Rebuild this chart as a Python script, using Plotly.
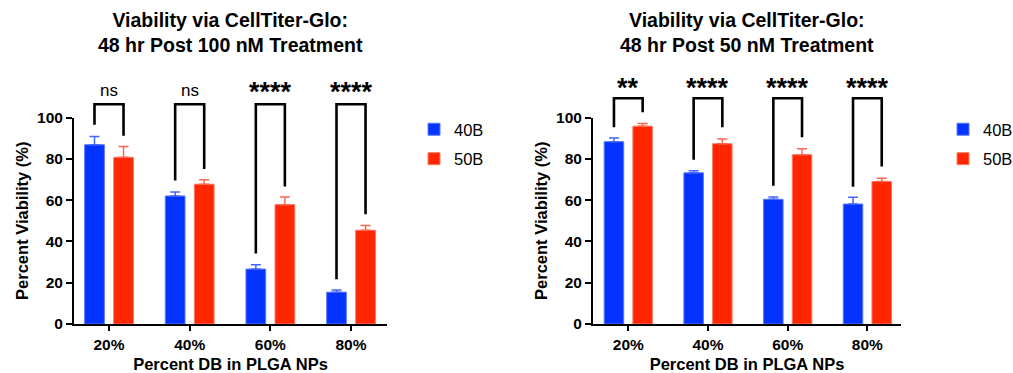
import plotly.graph_objects as go

categories = ["20%", "40%", "60%", "80%"]
series_names = ["40B", "50B"]

# 100 nM panel
v100_40B = [86.8, 62.0, 26.6, 15.4]
e100_40B = [4.0, 1.9, 2.1, 1.1]
v100_50B = [80.7, 67.7, 57.8, 45.4]
e100_50B = [5.2, 2.1, 3.7, 2.3]
sig100 = ["ns", "ns", "****", "****"]
br100_top = [106.4, 106.4, 106.4, 106.4]
br100_left = [96.5, 69.5, 34.2, 21.7]
br100_right = [91.2, 75.1, 66.6, 53.1]

# 50 nM panel
v50_40B = [88.3, 73.2, 60.4, 58.1]
e50_40B = [1.8, 1.0, 1.1, 3.3]
v50_50B = [95.8, 87.3, 82.0, 69.0]
e50_50B = [1.3, 2.3, 2.9, 1.6]
sig50 = ["**", "****", "****", "****"]
br50_top = [109.3, 109.3, 109.3, 109.3]
br50_left = [95.3, 79.5, 66.9, 66.5]
br50_right = [102.6, 95.3, 90.4, 76.3]

titles = ["Viability via CellTiter-Glo:<br>48 hr Post 100 nM Treatment",
          "Viability via CellTiter-Glo:<br>48 hr Post 50 nM Treatment"]
x_title = "Percent DB in PLGA NPs"
y_title = "Percent Viability (%)"
y_ticks = [0, 20, 40, 60, 80, 100]

BLUE = "#0433FF"
RED = "#FF2600"
BLUE_ERR = "#4466FF"
RED_ERR = "#FF6650"
FONT = "Liberation Sans, Arial, sans-serif"

W, H = 1013, 373
bargap = 0.28
slot = (1 - bargap) / 2

panels = [
    dict(vals=[(v100_40B, e100_40B), (v100_50B, e100_50B)], sig=sig100,
         top=br100_top, left=br100_left, right=br100_right,
         xdom=[74 / W, 387 / W], xr=[-0.434, 3.446], legend="legend", lab_off=6.8),
    dict(vals=[(v50_40B, e50_40B), (v50_50B, e50_50B)], sig=sig50,
         top=br50_top, left=br50_left, right=br50_right,
         xdom=[593 / W, 901 / W], xr=[-0.443, 3.422], legend="legend2", lab_off=6.0),
]

y_bot = 1 - 324 / H
y_100 = 1 - 117.5 / H
y_topext = 1 - 70 / H
ext_range = 100 * (y_topext - y_bot) / (y_100 - y_bot)

fig = go.Figure()
layout = dict(
    width=W, height=H, margin=dict(l=0, r=0, t=0, b=0, autoexpand=False),
    plot_bgcolor="rgba(0,0,0,0)", paper_bgcolor="white",
    barmode="group", bargap=bargap, bargroupgap=0.32,
    font=dict(family=FONT, color="black"),
    showlegend=True,
)

annotations = []
for p_i, p in enumerate(panels):
    n = p_i * 2 + 1
    xa = "x" if n == 1 else f"x{n}"
    ya = "y" if n == 1 else f"y{n}"
    xb = f"x{n + 1}"
    yb = f"y{n + 1}"
    colors = [BLUE, RED]
    ecolors = [BLUE_ERR, RED_ERR]
    lines = ["#5A78FF", "#FF7A66"]
    for s_i, (vals, errs) in enumerate(p["vals"]):
        fig.add_trace(go.Bar(
            x=categories, y=vals, name=series_names[s_i],
            marker=dict(color=colors[s_i], line=dict(color=lines[s_i], width=1)),
            error_y=dict(type="data", array=errs, arrayminus=[0] * len(errs), symmetric=False,
                         color=ecolors[s_i], thickness=1.5, width=5),
            xaxis=xa, yaxis=ya, legend=p["legend"], legendgroup=f"{p_i}{s_i}",
            offsetgroup=str(s_i),
        ))
    # significance brackets on overlay axes
    for i in range(len(categories)):
        xl = i - slot / 2
        xr_ = i + slot / 2
        fig.add_trace(go.Scatter(
            x=[xl, xl, xr_, xr_],
            y=[p["left"][i], p["top"][i], p["top"][i], p["right"][i]],
            mode="lines", line=dict(color="black", width=2.6),
            xaxis=xb, yaxis=yb, showlegend=False, hoverinfo="skip",
        ))
        is_star = "*" in p["sig"][i]
        annotations.append(dict(
            x=i, y=p["top"][i] + p["lab_off"] + (-1.0 if is_star else 0),
            xref=xb, yref=yb, text=p["sig"][i], showarrow=False,
            yanchor="middle",
            font=dict(size=27 if is_star else 17, family=FONT, color="black",
                      weight="bold" if is_star else "normal"),
        ))
    xkey = "xaxis" if n == 1 else f"xaxis{n}"
    ykey = "yaxis" if n == 1 else f"yaxis{n}"
    layout[xkey] = dict(
        domain=p["xdom"], range=p["xr"], type="category", anchor=ya, automargin=False,
        showline=True, linecolor="black", linewidth=2,
        ticks="outside", ticklen=5, tickwidth=2, tickcolor="black",
        showgrid=False, zeroline=False,
        tickfont=dict(size=15.5, family=FONT, weight="bold", color="black"),
        title=dict(text=x_title, font=dict(size=16.5, family=FONT, weight="bold"), standoff=15),
    )
    layout[ykey] = dict(
        domain=[y_bot, y_100], range=[0, 100], anchor=xa, automargin=False,
        showline=True, linecolor="black", linewidth=2,
        ticks="outside", ticklen=6, tickwidth=2, tickcolor="black",
        tickvals=y_ticks, showgrid=False, zeroline=False,
        tickfont=dict(size=15.5, family=FONT, weight="bold", color="black"),
        title=dict(text=y_title, font=dict(size=16.5, family=FONT, weight="bold"), standoff=4),
    )
    layout[f"xaxis{n + 1}"] = dict(domain=p["xdom"], range=p["xr"], anchor=yb, visible=False,
                                   automargin=False)
    layout[f"yaxis{n + 1}"] = dict(domain=[y_bot, y_topext], range=[0, ext_range], anchor=xb,
                                   visible=False, automargin=False)
    annotations.append(dict(
        x=(p["xdom"][0] + p["xdom"][1]) / 2, y=1 - 6.5 / H, xref="paper", yref="paper",
        text="<b>" + titles[p_i] + "</b>", showarrow=False, xanchor="center", yanchor="top",
        font=dict(size=19.5, family=FONT, color="black"),
    ))

layout["annotations"] = annotations
layout["legend"] = dict(x=414 / W, y=1 - 112 / H, xanchor="left", yanchor="top",
                        font=dict(size=16.5, family=FONT, color="black"),
                        tracegroupgap=5, bgcolor="rgba(0,0,0,0)")
layout["legend2"] = dict(x=943 / W, y=1 - 112 / H, xanchor="left", yanchor="top",
                         font=dict(size=16.5, family=FONT, color="black"),
                         tracegroupgap=5, bgcolor="rgba(0,0,0,0)")
fig.update_layout(**layout)
fig.write_html("out.html")
